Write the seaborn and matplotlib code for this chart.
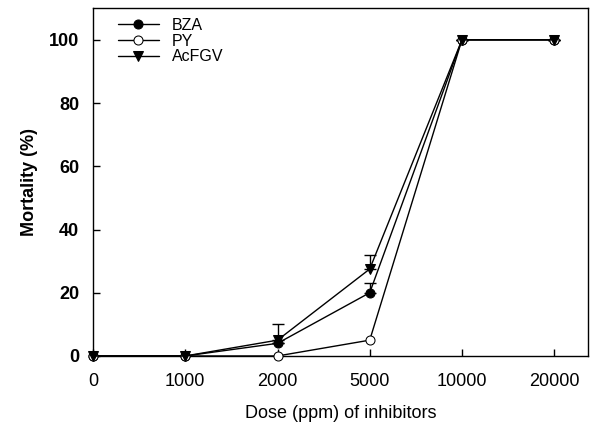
import seaborn as sns
import numpy as np
import matplotlib.pyplot as plt
import pandas as pd

doses = ["0", "1000", "2000", "5000", "10000", "20000"]
bza = [0, 0, 4, 20, 100, 100]
py = [0, 0, 0, 5, 100, 100]
acfgv = [0, 0, 5, 27.5, 100, 100]
bza_err = [0, 0, 0, 3, 0, 0]
acfgv_err = [0, 0, 5, 4.5, 0, 0]

sns.set_style("ticks")
plt.rcParams['font.family'] = ['Liberation Sans', 'DejaVu Sans']
plt.rcParams['text.color'] = 'black'
plt.rcParams['axes.labelcolor'] = 'black'
plt.rcParams['xtick.color'] = 'black'
plt.rcParams['ytick.color'] = 'black'

pos = np.arange(len(doses))
df = pd.DataFrame({
    "pos": np.tile(pos, 3),
    "mortality": bza + py + acfgv,
    "series": ["BZA"] * 6 + ["PY"] * 6 + ["AcFGV"] * 6,
})

fig = plt.figure(figsize=(5.93, 4.32), dpi=100)
ax = fig.add_axes([0.157, 0.176, 0.835, 0.805])

# error bars (upward only, like the original)
ax.errorbar(pos, acfgv, yerr=[np.zeros(6), acfgv_err], fmt="none", ecolor="black",
            elinewidth=1, capsize=4, capthick=1, zorder=2)
ax.errorbar(pos, bza, yerr=[np.zeros(6), bza_err], fmt="none", ecolor="black",
            elinewidth=1, capsize=4, capthick=1, zorder=2)

styles = {"BZA": ("o", "black"), "PY": ("o", "white"), "AcFGV": ("v", "black")}
for name in ["BZA", "PY", "AcFGV"]:
    m, fc = styles[name]
    sub = df[df.series == name]
    sns.lineplot(data=sub, x="pos", y="mortality", ax=ax, color="black", lw=1,
                 marker=m, markersize=6.5, markerfacecolor=fc, markeredgecolor="black",
                 label=name, clip_on=False, zorder=3)

ax.set_xlim(0, 5.37)
ax.set_ylim(0, 110)
ax.set_xticks(pos)
ax.set_xticklabels(doses)
ax.set_yticks([0, 20, 40, 60, 80, 100])
ax.tick_params(direction="in", length=5, width=1, labelsize=13)
ax.tick_params(axis="x", pad=12)
ax.tick_params(axis="y", pad=10)
for t in ax.get_yticklabels():
    t.set_fontweight("bold")
for s in ax.spines.values():
    s.set_linewidth(1)
    s.set_color("black")

ax.set_xlabel("Dose (ppm) of inhibitors", fontsize=13, labelpad=11)
ax.set_ylabel("Mortality (%)", fontsize=13, fontweight="bold", labelpad=8)

ax.legend(loc="upper left", frameon=False, fontsize=11.5, handlelength=2.6,
          borderaxespad=0.2, labelspacing=0.05, bbox_to_anchor=(0.03, 1.0))

fig.savefig("out.png", dpi=100)
